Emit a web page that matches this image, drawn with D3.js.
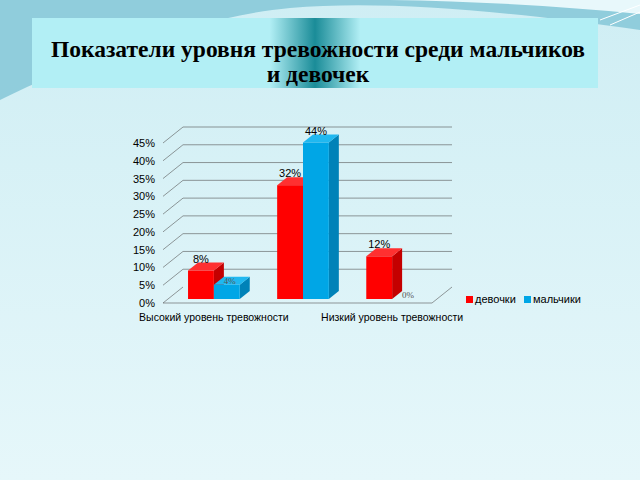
<!DOCTYPE html>
<html><head><meta charset="utf-8">
<script src="https://cdn.jsdelivr.net/npm/d3@7"></script>
<style>body{margin:0}svg{display:block}</style></head><body>
<script>
const categories = ["Высокий уровень тревожности","Средний уровень тревожности","Низкий уровень тревожности"];
const seriesNames = ["девочки","мальчики"];
const girls = [8,32,12];
const boys = [4,44,0];
const yTicks = [0,5,10,15,20,25,30,35,40,45];
const colors = ["#ff0000","#00a6e6"];
const sides = ["#c40000","#0082b8"];
const tops = ["#ff3030","#20b8f0"];

const W=640,H=480;
const svg=d3.select("body").append("svg").attr("width",W).attr("height",H);
const defs=svg.append("defs");
const bg=defs.append("linearGradient").attr("id","bg").attr("x1",0).attr("y1",0).attr("x2",0).attr("y2",1);
bg.append("stop").attr("offset",0).attr("stop-color","#cfeef4");
bg.append("stop").attr("offset",1).attr("stop-color","#e6f7fa");
svg.append("rect").attr("width",W).attr("height",H).attr("fill","url(#bg)");
svg.append("path").attr("d","M0,0 L640,0 L640,30 C500,10 380,0 290,8 C200,16 80,60 0,100 Z").attr("fill","#7fc4d6").attr("opacity",0.8);
svg.append("path").attr("d","M290,0 L640,0 L640,14 C540,4 420,-2 290,0 Z").attr("fill","#e8f8fb");
svg.append("path").attr("d","M600,20 L640,5 M610,25 L640,12").attr("stroke","#fff").attr("stroke-width",1);
const tg=defs.append("linearGradient").attr("id","tg").attr("x1",0).attr("x2",1);
[[0,"#b2eff5"],[0.42,"#b2eff5"],[0.5,"#1a8c98"],[0.58,"#b2eff5"],[1,"#b2eff5"]].forEach(s=>tg.append("stop").attr("offset",s[0]).attr("stop-color",s[1]));
svg.append("rect").attr("x",32).attr("y",18).attr("width",566).attr("height",70).attr("fill","url(#tg)");
svg.append("text").attr("x",318).attr("y",57).attr("text-anchor","middle").attr("font-family","Liberation Serif").attr("font-weight","bold").attr("font-size",23.5).text("Показатели уровня тревожности среди мальчиков");
svg.append("text").attr("x",318).attr("y",82).attr("text-anchor","middle").attr("font-family","Liberation Serif").attr("font-weight","bold").attr("font-size",23.5).text("и девочек");

const x0=163,x1=432,DX=20,DY=-16;
const y=d3.scaleLinear().domain([0,45]).range([303,143]);
const x=d3.scaleBand().domain(categories).range([x0+9,x0+271]).paddingInner(0.42).paddingOuter(0.18);
const xs=d3.scaleBand().domain(seriesNames).range([0,x.bandwidth()]);
const g=svg.append("g");
yTicks.forEach(t=>{
  g.append("line").attr("x1",x0).attr("y1",y(t)).attr("x2",x0+DX).attr("y2",y(t)+DY).attr("stroke","#555").attr("stroke-width",0.6);
  if(t>0) g.append("line").attr("x1",x0+DX).attr("y1",y(t)+DY).attr("x2",x1+DX).attr("y2",y(t)+DY).attr("stroke","#555").attr("stroke-width",0.6);
});
g.append("path").attr("d",`M${x0},${y(0)}L${x1},${y(0)}L${x1+DX},${y(0)+DY}`).attr("fill","none").attr("stroke","#555").attr("stroke-width",0.6);
const ya=g.append("g").attr("transform",`translate(${x0-5},0)`).call(d3.axisLeft(y).tickValues(yTicks).tickFormat(d=>d+"%").tickSize(0));
ya.select(".domain").remove();
ya.selectAll("text").attr("font-family","Liberation Sans").attr("font-size",11).attr("fill","#000");
const xa=g.append("g").attr("transform",`translate(0,${y(0)+8})`).call(d3.axisBottom(x).tickSize(0));
xa.select(".domain").remove();
xa.selectAll("text").attr("font-family","Liberation Sans").attr("font-size",10.5).attr("fill","#000").attr("dy","0.7em").style("display",(d,i)=>i===1?"none":null);
const bdx=10,bdy=-8,off=4;
const data=[girls,boys];
categories.forEach((c,ci)=>{
  seriesNames.forEach((s,si)=>{
    const v=data[si][ci];
    const bx=x(c)+xs(s), w=xs.bandwidth(), yb=y(0)-off, yt=yb-(y(0)-y(v));
    if(v>0){
      g.append("path").attr("d",`M${bx+w},${yt}L${bx+w+bdx},${yt+bdy}L${bx+w+bdx},${yb+bdy}L${bx+w},${yb}Z`).attr("fill",sides[si]);
      g.append("path").attr("d",`M${bx},${yt}L${bx+bdx},${yt+bdy}L${bx+w+bdx},${yt+bdy}L${bx+w},${yt}Z`).attr("fill",tops[si]);
      g.append("rect").attr("x",bx).attr("y",yt).attr("width",w).attr("height",yb-yt).attr("fill",colors[si]);
    }
    const small = si===1 && (v<10);
    g.append("text").attr("x",bx+w/2+(small?3:0)).attr("y",small? yt-1 : yt-8).attr("text-anchor","middle")
      .attr("font-family",small?"Liberation Serif":"Liberation Sans").attr("font-size",small?9:11).attr("fill",small?"#555":"#000").text(v+"%");
  });
});
const lg=svg.append("g").attr("transform","translate(466,296)");
seriesNames.forEach((s,i)=>{
  const lx=i*58;
  lg.append("rect").attr("x",lx).attr("y",0).attr("width",7).attr("height",7).attr("fill",colors[i]);
  lg.append("text").attr("x",lx+9).attr("y",7).attr("font-family","Liberation Sans").attr("font-size",11).text(s);
});
</script></body></html>
